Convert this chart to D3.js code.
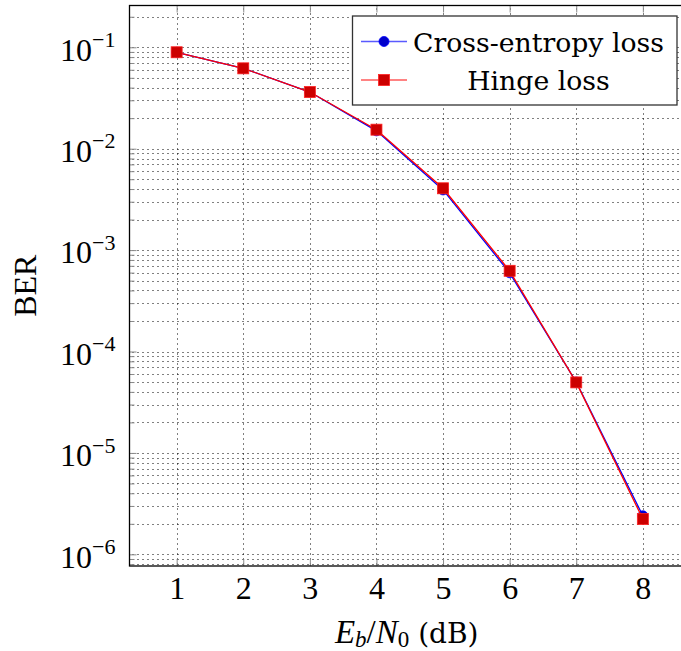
<!DOCTYPE html>
<html>
<head>
<meta charset="utf-8">
<script src="https://cdn.jsdelivr.net/npm/d3@7"></script>
<style>
  html, body { margin: 0; padding: 0; background: #fff; }
  svg { display: block; }
</style>
</head>
<body>
<svg id="chart" width="681" height="651"></svg>
<script>
// Eb/N0 sweep (dB)
const ebn0 = [1, 2, 3, 4, 5, 6, 7, 8];
// bit error rate per training loss
const berCrossEntropy = [0.0893, 0.0620, 0.0362, 0.0150, 0.00392, 0.000597, 0.0000500, 0.0000024];
const berHinge        = [0.0893, 0.0620, 0.0362, 0.0154, 0.00407, 0.000625, 0.0000496, 0.00000223];
// axis ticks
const xTicks = [1, 2, 3, 4, 5, 6, 7, 8];
const yTickExponents = [-6, -5, -4, -3, -2, -1];
const seriesNames = ["Cross-entropy loss", "Hinge loss"];

const svg = d3.select("#chart");
const plot = { left: 129.5, top: 5.5, right: 690, bottom: 566 };

const x = d3.scaleLinear().domain([0.292, 8.708]).range([plot.left, plot.right]);
const y = d3.scaleLog().domain([Math.pow(10, -6.115), Math.pow(10, -0.588)]).range([plot.bottom, plot.top]);

const mathFont = "'Liberation Serif', 'DejaVu Serif', serif";
const textFont = "'DejaVu Serif', 'Liberation Serif', serif";
const snap = v => Math.round(v) + 0.5;

svg.append("defs").append("clipPath").attr("id", "plotClip")
  .append("rect")
  .attr("x", plot.left).attr("y", plot.top)
  .attr("width", plot.right - plot.left).attr("height", plot.bottom - plot.top);

// --- grid: decades, minor log steps and x integers, all dotted ---
const gridValues = [];
for (let k = -7; k <= 0; k++) {
  for (let m = 1; m <= 9; m++) {
    const v = m * Math.pow(10, k);
    if (v >= y.domain()[0] && v <= y.domain()[1]) gridValues.push({ v, major: m === 1 });
  }
}
const grid = svg.append("g").attr("clip-path", "url(#plotClip)");
grid.selectAll("line.hgrid").data(gridValues).join("line")
  .attr("class", "hgrid")
  .attr("x1", plot.left + 3).attr("x2", plot.right)
  .attr("y1", d => snap(y(d.v))).attr("y2", d => snap(y(d.v)))
  .attr("stroke", "#000").attr("stroke-width", 1)
  .attr("stroke-dasharray", "1 4");
grid.selectAll("line.vgrid").data(xTicks).join("line")
  .attr("class", "vgrid")
  .attr("x1", d => snap(x(d))).attr("x2", d => snap(x(d)))
  .attr("y1", plot.top + 3).attr("y2", plot.bottom)
  .attr("stroke", "#000").attr("stroke-width", 1)
  .attr("stroke-dasharray", "1 4");

// --- inward tick marks ---
const tickColor = "#8a8a8a";
const xAxisBottom = svg.append("g")
  .attr("transform", `translate(0,${plot.bottom})`)
  .call(d3.axisBottom(x).tickValues(xTicks).tickSize(-7).tickPadding(11)
    .tickFormat(d3.format("d")));
xAxisBottom.select(".domain").remove();
xAxisBottom.selectAll(".tick line").attr("stroke", tickColor).attr("stroke-width", 1);
xAxisBottom.selectAll(".tick text")
  .attr("font-family", mathFont).attr("font-size", 32).attr("fill", "#000")
  .attr("dy", "0.68em");

const xAxisTop = svg.append("g")
  .attr("transform", `translate(0,${plot.top})`)
  .call(d3.axisTop(x).tickValues(xTicks).tickSize(-7).tickFormat(""));
xAxisTop.select(".domain").remove();
xAxisTop.selectAll(".tick line").attr("stroke", tickColor).attr("stroke-width", 1);

const yMinor = gridValues.filter(d => !d.major).map(d => d.v);
const yMinorAxis = svg.append("g")
  .attr("transform", `translate(${plot.left},0)`)
  .call(d3.axisLeft(y).tickValues(yMinor).tickSize(-5).tickFormat(""));
yMinorAxis.select(".domain").remove();
yMinorAxis.selectAll(".tick line").attr("stroke", tickColor).attr("stroke-width", 1);

const yAxis = svg.append("g")
  .attr("transform", `translate(${plot.left},0)`)
  .call(d3.axisLeft(y).tickValues(yTickExponents.map(e => Math.pow(10, e)))
    .tickSize(-7).tickPadding(13).tickFormat(""));
yAxis.select(".domain").remove();
yAxis.selectAll(".tick line").attr("stroke", tickColor).attr("stroke-width", 1);
yAxis.selectAll(".tick").each(function (d) {
  const e = Math.round(Math.log10(d));
  const t = d3.select(this).select("text")
    .attr("font-family", mathFont).attr("font-size", 32).attr("fill", "#000")
    .attr("dy", "0.4em").attr("x", -14);
  t.append("tspan").text("10");
  t.append("tspan").attr("font-size", 22).attr("dy", "-0.62em").text("\u2212" + Math.abs(e));
});

// --- frame ---
svg.append("rect")
  .attr("x", plot.left).attr("y", plot.top)
  .attr("width", plot.right - plot.left).attr("height", plot.bottom - plot.top)
  .attr("fill", "none").attr("stroke", "#000").attr("stroke-width", 1.3);

// --- data series ---
const series = [
  { name: seriesNames[0], values: berCrossEntropy, line: "#0000ff", fill: "#0000cc", stroke: "#0000ff", marker: "circle", legendLine: "#5a5aff" },
  { name: seriesNames[1], values: berHinge, line: "#ff0000", fill: "#cc0000", stroke: "#ff2020", marker: "square", legendLine: "#ff5a5a" }
];
const lineGen = d3.line().x(d => x(d[0])).y(d => y(d[1]));
const markers = svg.append("g").attr("clip-path", "url(#plotClip)");

function drawMarker(g, kind, cx, cy, s) {
  if (kind === "circle") {
    g.append("circle").attr("cx", cx).attr("cy", cy).attr("r", 5)
      .attr("fill", s.fill).attr("stroke", s.stroke).attr("stroke-width", 0.8);
  } else {
    g.append("rect").attr("x", cx - 5.5).attr("y", cy - 5.5).attr("width", 11).attr("height", 11)
      .attr("fill", s.fill).attr("stroke", s.stroke).attr("stroke-width", 0.8);
  }
}

series.forEach(s => {
  const pts = ebn0.map((v, i) => [v, s.values[i]]);
  markers.append("path").datum(pts)
    .attr("d", lineGen).attr("fill", "none")
    .attr("stroke", s.line).attr("stroke-width", 1.3);
  pts.forEach(p => drawMarker(markers, s.marker, x(p[0]), y(p[1]), s));
});

// --- legend ---
const legend = { x: 352.5, y: 16, w: 324.5, h: 89 };
const lg = svg.append("g");
lg.append("rect")
  .attr("x", legend.x).attr("y", legend.y).attr("width", legend.w).attr("height", legend.h)
  .attr("fill", "#fff").attr("stroke", "#333").attr("stroke-width", 1.3);
const rowY = [41.5, 80];
const textCenter = 538.5;
series.forEach((s, i) => {
  lg.append("line").attr("x1", 361).attr("x2", 407).attr("y1", rowY[i]).attr("y2", rowY[i])
    .attr("stroke", s.legendLine).attr("stroke-width", 1.3);
  drawMarker(lg, s.marker, 384, rowY[i], s);
  lg.append("text")
    .attr("x", textCenter).attr("y", rowY[i] + 10)
    .attr("text-anchor", "middle")
    .attr("font-family", textFont).attr("font-size", 26.7)
    .attr("fill", "#000")
    .text(s.name);
});

// --- axis titles ---
const xt = svg.append("text")
  .attr("x", (plot.left + plot.right) / 2 - 3).attr("y", 643)
  .attr("text-anchor", "middle")
  .attr("font-family", mathFont).attr("font-size", 33).attr("fill", "#000");
xt.append("tspan").attr("font-style", "italic").text("E");
xt.append("tspan").attr("font-style", "italic").attr("font-size", 23).attr("dy", 4).text("b");
xt.append("tspan").attr("dy", -4).text("/");
xt.append("tspan").attr("font-style", "italic").text("N");
xt.append("tspan").attr("font-size", 23).attr("dy", 4).text("0");
xt.append("tspan").attr("dy", -4).attr("font-family", textFont).attr("font-size", 28).text("\u00a0(dB)");

svg.append("text")
  .attr("transform", `translate(36,${(plot.top + plot.bottom) / 2}) rotate(-90)`)
  .attr("text-anchor", "middle")
  .attr("font-family", mathFont).attr("font-size", 32).attr("fill", "#000")
  .text("BER");
</script>
</body>
</html>
